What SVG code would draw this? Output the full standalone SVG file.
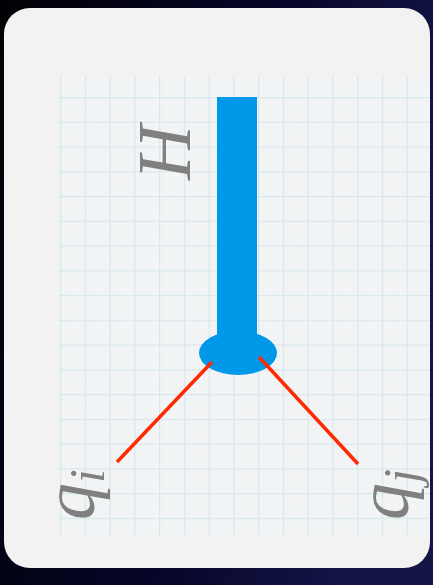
<svg xmlns="http://www.w3.org/2000/svg" width="433" height="585" viewBox="0 0 433 585">
  <defs>
    <linearGradient id="bg" x1="0" y1="0" x2="1" y2="0.3">
      <stop offset="0" stop-color="#010104"/>
      <stop offset="0.6" stop-color="#06062a"/>
      <stop offset="1" stop-color="#141446"/>
    </linearGradient>
    <pattern id="minor" x="60" y="97" width="4.95" height="4.95" patternUnits="userSpaceOnUse">
      <path d="M0 0V4.95M0 0H4.95" fill="none" stroke="#f4e8ec" stroke-width="0.8" opacity="0.7"/>
    </pattern>
    <pattern id="major" x="60" y="97" width="24.75" height="24.75" patternUnits="userSpaceOnUse">
      <path d="M0 0V24.75M0 0H24.75" fill="none" stroke="#d9e8ec" stroke-width="2.6"/>
    </pattern>
  </defs>
  <style>
    .lbl { font-family: "Liberation Serif", "DejaVu Serif", serif; font-style: italic; fill: #808080; }
    .edge { stroke: #ff2a00; stroke-width: 3.5; fill: none; }
    .blue { fill: #0098e8; }
  </style>
  <rect width="433" height="585" fill="url(#bg)"/>
  <rect x="4" y="8" width="426" height="560" rx="26" fill="#f2f2f2"/>
  <g id="grid">
    <rect x="59" y="76" width="371" height="459" fill="#f2f5f6"/>
    <rect x="59" y="76" width="371" height="459" fill="url(#minor)"/>
    <rect x="59" y="76" width="371" height="459" fill="url(#major)"/>
  </g>
  <g id="node-H">
    <rect class="blue" x="217" y="97" width="40" height="250"/>
    <ellipse class="blue" cx="238" cy="353" rx="39" ry="22"/>
    <text class="lbl" font-size="76" transform="translate(190,180) rotate(-90)">H</text>
  </g>
  <g id="node-qi">
    <text class="lbl" font-size="74" transform="translate(94,520) rotate(-90)">q<tspan font-size="50" dy="10">i</tspan></text>
  </g>
  <g id="node-qj">
    <text class="lbl" font-size="74" transform="translate(408,520) rotate(-90)">q<tspan font-size="50" dy="10">j</tspan></text>
  </g>
  <g id="connectors">
    <line class="edge" x1="212" y1="362" x2="117" y2="462"/>
    <line class="edge" x1="259" y1="357" x2="358" y2="464"/>
  </g>
</svg>
